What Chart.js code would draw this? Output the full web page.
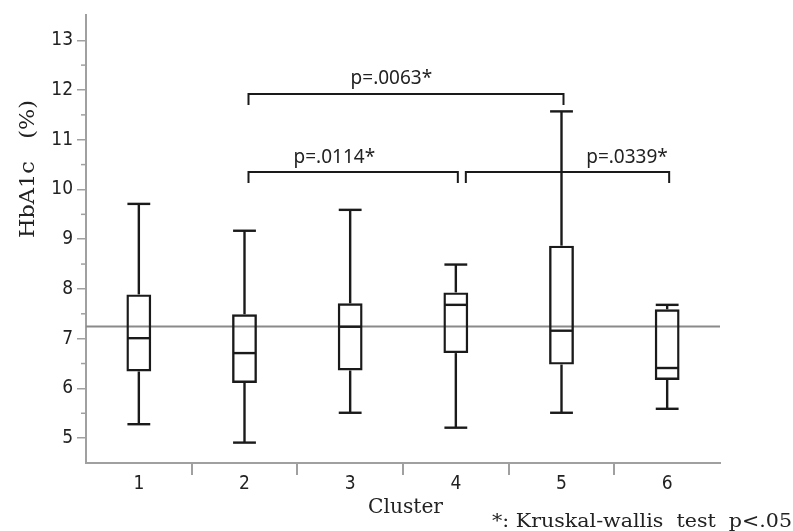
<!doctype html>
<html>
<head>
<title>HbA1c by cluster</title>
<script src="https://cdn.jsdelivr.net/npm/chart.js@4.4.1/dist/chart.umd.min.js"></script>
<style>
  body { margin: 0; background: #fff; }
</style>
</head>
<body>
<canvas id="chart" width="793" height="531"></canvas>
<script>
// values
const categories = ['1', '2', '3', '4', '5', '6'];
const whiskerLow = [5.28, 4.91, 5.51, 5.21, 5.51, 5.59];
const q1 = [6.34, 6.11, 6.36, 6.71, 6.48, 6.17];
const median = [7.01, 6.71, 7.24, 7.68, 7.16, 6.41];
const q3 = [7.89, 7.49, 7.71, 7.93, 8.87, 7.59];
const whiskerHigh = [9.71, 9.17, 9.59, 8.49, 11.57, 7.68];
const refLine = 7.26;
const yTicks = [5, 6, 7, 8, 9, 10, 11, 12, 13];
const yMinor = [5.5, 6.5, 7.5, 8.5, 9.5, 10.5, 11.5, 12.5];

// significance brackets (category index from/to, height) and their labels
const bracketFrom = [1, 1, 3];
const bracketTo = [4, 3, 5];
const bracketY = [11.92, 10.35, 10.35];
const bracketText = ['p=.0063*', 'p=.0114*', 'p=.0339*'];
const labelX = [2.39, 1.85, 4.62];
const labelY = [12.22, 10.65, 10.65];

const boxColor = '#1a1a1a';

function fitText(ctx, text, x, y, width, rotate) {
    const w = ctx.measureText(text).width;
    ctx.save();
    ctx.translate(x, y);
    if (rotate) ctx.rotate(-Math.PI / 2);
    ctx.scale(width / w, 1);
    ctx.fillText(text, 0, 0);
    ctx.restore();
}

const boxPlugin = {
    id: 'boxParts',
    beforeDatasetsDraw(chart) {
        const {ctx, chartArea, scales: {y}} = chart;
        const py = Math.round(y.getPixelForValue(refLine)) + 0.5;
        ctx.save();
        ctx.strokeStyle = '#8a8a8a';
        ctx.lineWidth = 2;
        ctx.beginPath();
        ctx.moveTo(chartArea.left, py);
        ctx.lineTo(chartArea.right, py);
        ctx.stroke();
        // minor ticks on the y axis
        ctx.strokeStyle = '#a0a0a0';
        ctx.lineWidth = 1.5;
        yMinor.forEach(v => {
            const p = y.getPixelForValue(v);
            ctx.beginPath();
            ctx.moveTo(chartArea.left - 5, p);
            ctx.lineTo(chartArea.left, p);
            ctx.stroke();
        });
        ctx.restore();
    },
    afterDatasetsDraw(chart) {
        const {ctx, scales: {x, y}} = chart;
        const meta = chart.getDatasetMeta(0);
        ctx.save();
        ctx.strokeStyle = boxColor;
        ctx.lineWidth = 2.4;
        meta.data.forEach((bar, i) => {
            const cx = bar.x;
            const half = bar.width / 2 - 1;
            const seg = (x0, y0, x1, y1) => {
                ctx.beginPath();
                ctx.moveTo(x0, y0);
                ctx.lineTo(x1, y1);
                ctx.stroke();
            };
            const pm = y.getPixelForValue(median[i]);
            seg(cx - half, pm, cx + half, pm);
            seg(cx, y.getPixelForValue(q3[i]), cx, y.getPixelForValue(whiskerHigh[i]));
            seg(cx, y.getPixelForValue(q1[i]), cx, y.getPixelForValue(whiskerLow[i]));
            const ph = y.getPixelForValue(whiskerHigh[i]);
            const pl = y.getPixelForValue(whiskerLow[i]);
            seg(cx - half, ph, cx + half, ph);
            seg(cx - half, pl, cx + half, pl);
        });

        // brackets
        ctx.lineWidth = 2;
        bracketFrom.forEach((f, i) => {
            let x0 = x.getPixelForValue(f) + 4;
            if (bracketTo.includes(f)) x0 += 6;
            const x1 = x.getPixelForValue(bracketTo[i]) + 2;
            const yb = y.getPixelForValue(bracketY[i]);
            ctx.beginPath();
            ctx.moveTo(x0, yb + 11);
            ctx.lineTo(x0, yb);
            ctx.lineTo(x1, yb);
            ctx.lineTo(x1, yb + 11);
            ctx.stroke();
        });
        ctx.fillStyle = '#222';
        ctx.font = '19px "Noto Sans"';
        ctx.textAlign = 'center';
        ctx.textBaseline = 'middle';
        bracketText.forEach((t, i) => {
            ctx.fillText(t, x.getPixelForValue(labelX[i]), y.getPixelForValue(labelY[i]));
        });
        ctx.restore();
    },
    afterDraw(chart) {
        const ctx = chart.ctx;
        ctx.save();
        ctx.fillStyle = '#222';
        ctx.textAlign = 'left';
        ctx.textBaseline = 'alphabetic';
        ctx.font = '20px "DejaVu Serif"';
        fitText(ctx, 'Cluster', 368, 513, 75, false);
        ctx.font = '18px "DejaVu Serif"';
        fitText(ctx, '*: Kruskal-wallis  test  p<.05', 492, 527, 300, false);
        ctx.font = '20px "DejaVu Serif"';
        fitText(ctx, 'HbA1c\u3000(%)', 34, 238, 138, true);
        ctx.restore();
    }
};

const ctx = document.getElementById('chart');
new Chart(ctx, {
    type: 'bar',
    data: {
        labels: categories,
        datasets: [{
            data: q1.map((v, i) => [v, q3[i]]),
            backgroundColor: 'rgba(0,0,0,0)',
            borderColor: boxColor,
            borderWidth: 2.4,
            borderSkipped: false,
            barPercentage: 0.235,
            categoryPercentage: 1
        }]
    },
    options: {
        responsive: false,
        animation: false,
        layout: { padding: { top: 13, right: 73, left: 0, bottom: 0 } },
        plugins: {
            legend: { display: false },
            tooltip: { enabled: false },
            title: { display: false }
        },
        scales: {
            x: {
                afterFit: s => { s.height = 68; },
                grid: {
                    offset: true,
                    drawOnChartArea: false,
                    tickLength: 12,
                    lineWidth: 2,
                    color: c => (c.index === undefined || c.index === 0) ? 'rgba(0,0,0,0)' : '#a0a0a0'
                },
                border: { color: '#a0a0a0', width: 2 },
                ticks: {
                    padding: -2,
                    color: '#222',
                    font: { family: '"DejaVu Sans Condensed", "DejaVu Sans"', size: 19 }
                }
            },
            y: {
                min: 4.5,
                max: 13.5,
                afterFit: s => { s.width = 86; },
                afterBuildTicks: s => { s.ticks = yTicks.map(v => ({ value: v })); },
                grid: {
                    drawOnChartArea: false,
                    tickLength: 9,
                    lineWidth: 1.5,
                    color: '#a0a0a0'
                },
                border: { color: '#a0a0a0', width: 2 },
                ticks: {
                    padding: 4,
                    color: '#222',
                    font: { family: '"DejaVu Sans Condensed", "DejaVu Sans"', size: 19 }
                }
            }
        }
    },
    plugins: [boxPlugin]
});
</script>
</body>
</html>
